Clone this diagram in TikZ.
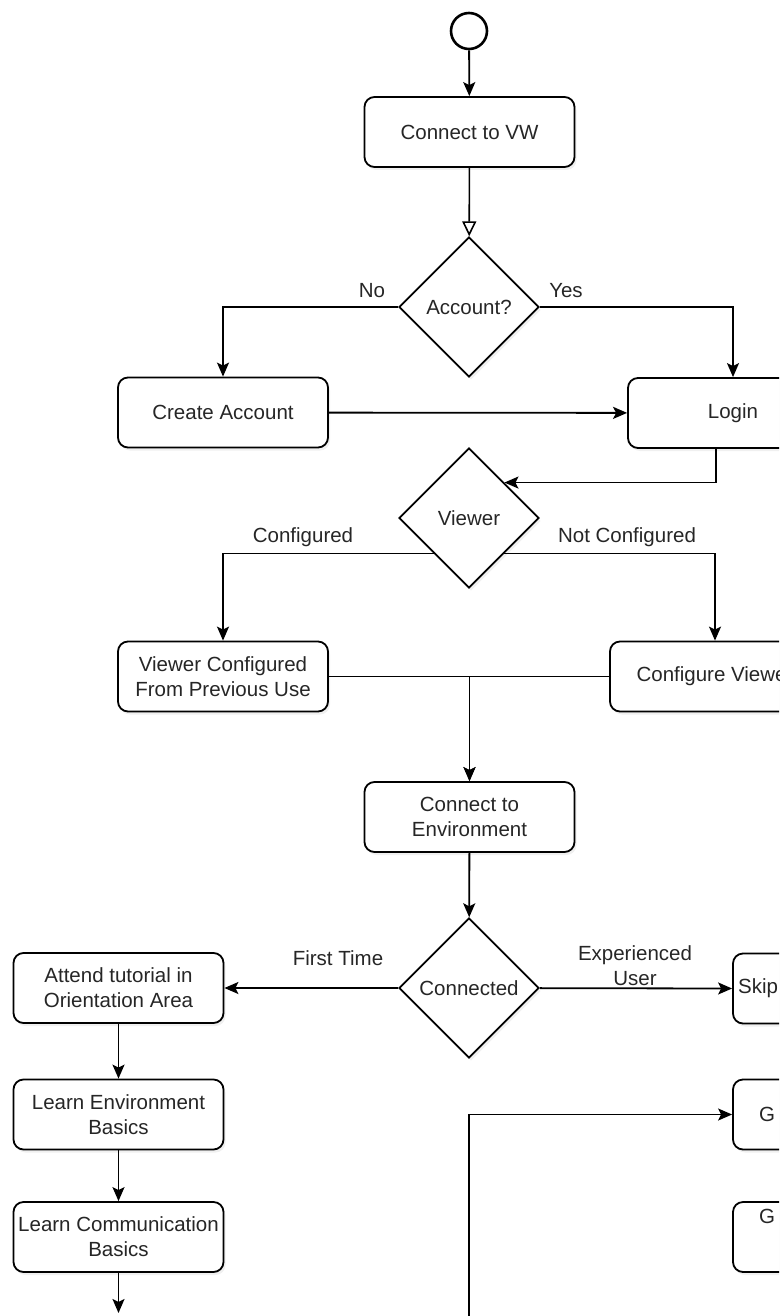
\documentclass[tikz,border=0pt]{standalone}
\usepackage{fontspec}
\setmainfont{Liberation Sans}
\usetikzlibrary{shapes.geometric,arrows.meta,shadows}
\begin{document}
\begin{tikzpicture}[x=1pt,y=-1pt,
    font=\fontsize{20.5}{25}\selectfont,
    every node/.style={text=black!85},
    box/.style={draw,line width=1.8pt,rounded corners=10pt,fill=white,
      minimum width=210pt,minimum height=70pt,align=center,
      drop shadow={opacity=0.12,shadow xshift=2pt,shadow yshift=-3pt}},
    choice/.style={draw,line width=1.8pt,diamond,aspect=1,inner sep=0pt,
      minimum width=140pt,minimum height=140pt,fill=white,
      drop shadow={opacity=0.12,shadow xshift=2pt,shadow yshift=-3pt}},
    flow/.style={line width=1.8pt,-{Stealth[length=14pt,width=12pt,inset=3pt]}},
    opentip/.style={line width=1.6pt,-{Triangle[open,length=15pt,width=14pt,fill=white]}}]
  \useasboundingbox (0,0) rectangle (779,1316);
  \clip (0,0) rectangle (779,1316);
        \draw (469,31) node[circle,draw,line width=2.6pt,minimum size=36pt,fill=white](start){};
        \draw (469.5,132) node[box](vw){Connect to VW};
        \draw (469,307) node[choice](acc){Account?};
        \draw (223,412.5) node[box](create){Create Account};
        \draw (733,413) node[box](login){Login};
        \draw (469,518) node[choice](viewer){Viewer};
        \draw (223,676.5) node[box](prev){Viewer Configured\\From Previous Use};
        \draw (715,676.5) node[box](confview){Configure Viewer};
        \draw (469.5,817) node[box](env){Connect to\\Environment};
        \draw (469,988) node[choice](conn){Connected};
        \draw (118.5,988) node[box](attend){Attend tutorial in\\Orientation Area};
        \draw (838,988.5) node[box](skip){};
        \draw (738,988) node[anchor=west,inner sep=0pt](skiptext){Skip};
        \draw (118.5,1114.5) node[box](learnenv){Learn Environment\\Basics};
        \draw (118.5,1237) node[box](learncomm){Learn Communication\\Basics};
        \draw (838,1114.5) node[box](gone){};
        \draw (759,1114) node[anchor=west,inner sep=0pt](gonetext){G};
        \draw (838,1237) node[box](gtwo){};
        \draw (759,1216) node[anchor=west,inner sep=0pt](gtwotext){G};
        \coordinate (below) at (118.5,1313);
        \coordinate (loopin) at (469,1330);
        \draw (372,291) node(no){No};
        \draw (566,291) node(yes){Yes};
        \draw (303,537) node(cfg){Configured};
        \draw (627,537) node(notcfg){Not Configured};
        \draw (338,958) node(first){First Time};
        \draw (635,966) node[align=center](exp){Experienced\\User};
        \draw[flow] (start) -- (vw);
        \draw[opentip] (vw) -- (acc);
        \draw[flow] (acc.west) -| (create.north);
        \draw[flow] (acc.east) -| (login.north);
        \draw[flow] (create) -- (login);
        \draw[flow] ([xshift=-17pt]login.south) |- (viewer.north east);
        \draw[flow] (viewer.south west) -| (prev.north);
        \draw[flow] (viewer.south east) -| (confview.north);
        \draw[flow] (prev.east) -| (env.north);
        \draw[flow] (confview.west) -| (env.north);
        \draw[flow] (env) -- (conn);
        \draw[flow] (conn) -- (attend);
        \draw[flow] (conn) -- (skip.west);
        \draw[flow] (attend) -- (learnenv);
        \draw[flow] (learnenv) -- (learncomm);
        \draw[flow] (learncomm) -- (below);
        \draw[flow] (loopin) |- (gone.west);
      \end{tikzpicture}
\end{document}
